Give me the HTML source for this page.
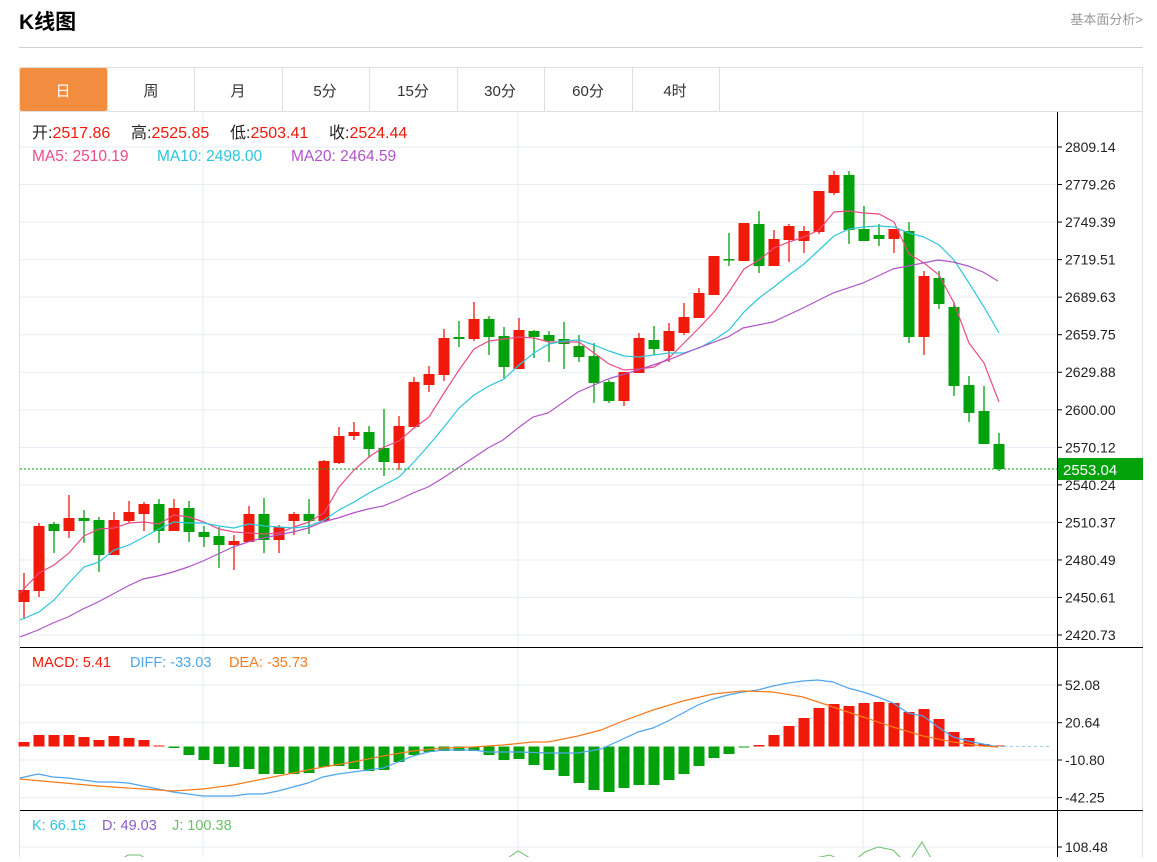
<!DOCTYPE html>
<html><head><meta charset="utf-8"><style>
body{margin:0;background:#fff;width:1157px;height:857px;overflow:hidden;font-family:"Liberation Sans","Noto Sans CJK SC",sans-serif;}
svg text{font-family:"Liberation Sans","Noto Sans CJK SC",sans-serif;}
</style></head><body>
<svg id="s" width="1157" height="857" xmlns="http://www.w3.org/2000/svg">
<text x="19" y="29" font-size="21" font-weight="bold" fill="#000">K线图</text>
<text x="1143" y="24" font-size="13" fill="#999" text-anchor="end">基本面分析&gt;</text>
<line x1="19" y1="47.5" x2="1143" y2="47.5" stroke="#d0d0d0"/>
<rect x="19.5" y="67.5" width="1123" height="800" fill="none" stroke="#e0e0e0"/>
<rect x="20" y="68" width="87" height="43" fill="#f28c3f" rx="2"/>
<g font-size="15" text-anchor="middle" fill="#333">
<text x="63" y="96" fill="#fff">日</text><text x="151" y="96">周</text><text x="238" y="96">月</text><text x="325" y="96">5分</text><text x="413" y="96">15分</text><text x="500" y="96">30分</text><text x="588" y="96">60分</text><text x="675" y="96">4时</text>
</g>
<g stroke="#e0e0e0"><line x1="107.5" y1="68" x2="107.5" y2="111"/><line x1="194.5" y1="68" x2="194.5" y2="111"/><line x1="282.5" y1="68" x2="282.5" y2="111"/><line x1="369.5" y1="68" x2="369.5" y2="111"/><line x1="457.5" y1="68" x2="457.5" y2="111"/><line x1="544.5" y1="68" x2="544.5" y2="111"/><line x1="632.5" y1="68" x2="632.5" y2="111"/><line x1="719.5" y1="68" x2="719.5" y2="111"/><line x1="20" y1="111.5" x2="1143" y2="111.5"/></g>
<g id="grid" stroke="#e6edf3" stroke-width="1"></g>
<g id="plot"></g>
<g font-size="16">
<text x="32" y="138" fill="#222">开:<tspan fill="#f0190a">2517.86</tspan></text>
<text x="131" y="138" fill="#222">高:<tspan fill="#f0190a">2525.85</tspan></text>
<text x="230" y="138" fill="#222">低:<tspan fill="#f0190a">2503.41</tspan></text>
<text x="329" y="138" fill="#222">收:<tspan fill="#f0190a">2524.44</tspan></text>
<text x="32" y="161" font-size="15.5" fill="#ec4a86">MA5:  2510.19</text>
<text x="157" y="161" font-size="15.5" fill="#2cc6dc">MA10:  2498.00</text>
<text x="291" y="161" font-size="15.5" fill="#b154c8">MA20:  2464.59</text>
<text x="32" y="667" font-size="14.5" fill="#f0190a">MACD: 5.41</text>
<text x="130" y="667" font-size="14.5" fill="#4ea5ee">DIFF: -33.03</text>
<text x="229" y="667" font-size="14.5" fill="#f67b1d">DEA: -35.73</text>
<text x="32" y="830" font-size="14.5" fill="#2cc6dc">K: 66.15</text>
<text x="102" y="830" font-size="14.5" fill="#8c5bc8">D: 49.03</text>
<text x="172" y="830" font-size="14.5" fill="#6cbf6c">J: 100.38</text>
</g>
</svg>
<script>
var S='http://www.w3.org/2000/svg',g=document.getElementById('plot'),gr=document.getElementById('grid');
function el(p,t,a,tx){var e=document.createElementNS(S,t);for(var k in a)e.setAttribute(k,a[k]);if(tx)e.textContent=tx;p.appendChild(e);return e;}
var pl=['2809.14','2779.26','2749.39','2719.51','2689.63','2659.75','2629.88','2600.00','2570.12','2540.24','2510.37','2480.49','2450.61','2420.73'];
for(var i=0;i<14;i++){var y=147+i*37.54;el(gr,'line',{x1:20,x2:1057,y1:y,y2:y});}
[685,722.7,760,797.6,847].forEach(function(y){el(gr,'line',{x1:20,x2:1057,y1:y,y2:y});});
[203,518,863].forEach(function(x){el(gr,'line',{x1:x,x2:x,y1:112,y2:857});});
el(g,'line',{x1:20,x2:1143,y1:647.5,y2:647.5,stroke:'#000'});
el(g,'line',{x1:20,x2:1143,y1:810.5,y2:810.5,stroke:'#000'});
el(g,'line',{x1:1057.5,x2:1057.5,y1:112,y2:857,stroke:'#000'});
for(var i=0;i<14;i++){var y=147+i*37.54;el(g,'line',{x1:1057,x2:1062,y1:y,y2:y,stroke:'#000'});el(g,'text',{x:1065,y:y+5,'font-size':14,fill:'#222'},pl[i]);}
[[685,'52.08'],[722.7,'20.64'],[760,'-10.80'],[797.6,'-42.25'],[847,'108.48']].forEach(function(a){el(g,'line',{x1:1057,x2:1062,y1:a[0],y2:a[0],stroke:'#000'});el(g,'text',{x:1065,y:a[0]+5,'font-size':14,fill:'#222'},a[1]);});
var R='#f0190a',G='#03a20c';
var C=[['r',590,602,573,619],['r',526,591,523,597],['g',524,531,522,553],['r',518,531,495,538],['g',518,521,510,543],['g',520,555,517,572],['r',520,555,512,555],['r',512,521,501,523],['r',504,514,502,531],['g',504,531,499,543],['r',508,531,499,531],['g',508,532,501,542],['g',532,537,526,547],['g',536,545,527,568],['r',541,545,535,570],['r',514,542,506,542],['g',514,540,498,553],['r',527,540,525,553],['r',514,521,512,535],['g',514,521,499,534],['r',461,521,460,521],['r',436,463,427,464],['r',432,436,422,440],['g',432,449,426,458],['g',448,462,409,476],['r',426,463,416,470],['r',382,427,377,427],['r',374,385,366,392],['r',338,375,329,381],['g',337,339,321,347],['r',319,339,302,341],['g',319,337,316,355],['g',336,367,327,378],['r',330,369,318,369],['g',331,337,330,358],['g',335,341,331,362],['g',339,344,322,369],['g',346,357,335,362],['g',356,383,343,403],['g',382,401,380,403],['r',372,401,372,406],['r',338,373,333,373],['g',340,349,326,355],['r',331,351,323,362],['r',317,333,303,335],['r',293,318,288,318],['r',256,295,256,295],['g',259,260,233,266],['r',223,261,223,261],['g',224,266,211,273],['r',239,266,230,266],['r',226,240,224,262],['r',231,241,226,253],['r',191,232,191,234],['r',175,193,171,195],['g',175,230,171,244],['g',229,241,206,241],['g',235,239,224,246],['r',229,239,229,253],['g',231,337,222,343],['r',276,337,271,355],['g',278,304,271,309],['g',307,386,302,396],['g',385,413,376,422],['g',411,444,386,444],['g',444,469,433,471]];
function X(i){return 24+i*15.0;}
C.forEach(function(c,i){var col=c[0]=='r'?R:G,x=X(i);el(g,'line',{x1:x,x2:x,y1:c[3],y2:c[4],stroke:col,'stroke-width':1.3});el(g,'rect',{x:x-5.5,y:c[1],width:11,height:Math.max(1.5,c[2]-c[1]),fill:col});});
function poly(pts,col,w){el(g,'polyline',{points:pts.map(function(p){return p.join(',')}).join(' '),fill:'none',stroke:col,'stroke-width':w||1.2});}
function seq(xs,ys){return xs.map(function(x,i){return [x,ys[i]];});}
var xs=[];for(var i=0;i<66;i++)xs.push(X(i));xs[0]=20;
poly(seq(xs,[593,573,565,553,536,529,528,523,522,524,515,517,522,529,532,533,534,533,527,522,513,487,470,457,447,441,428,417,393,370,349,341,339,337,338,342,342,342,353,364,370,369,367,358,343,328,312,292,269,260,248,242,237,230,212,211,213,214,222,254,263,275,303,343,363,402]),'#ec4a86');
poly(seq(xs,[620,612,600,583,567,562,550,545,537,529,522,523,523,526,528,524,526,527,528,526,520,510,502,493,485,477,462,445,427,408,395,386,379,365,353,344,341,340,345,351,356,357,355,353,353,348,340,330,312,298,287,275,264,250,236,229,227,226,227,233,237,245,260,283,307,333]),'#2cc6dc');
poly([[20,637],[38,630],[53,623],[68,617],[83,609],[98,602],[113,594],[128,586],[143,579],[158,576],[173,572],[188,567],[203,561],[218,554],[233,547],[248,542],[263,538],[278,535],[293,532],[308,528],[323,522],[338,518],[353,513],[368,509],[383,506],[398,500],[413,493],[428,487],[443,478],[458,468],[473,458],[488,448],[503,440],[518,428],[533,417],[548,413],[578,392],[608,379],[638,370],[668,360],[698,348],[728,337],[743,328],[773,322],[803,308],[833,293],[863,283],[893,269],[923,263],[938,260],[953,262],[968,266],[983,272],[998,281]],'#b154c8');
el(g,'line',{x1:20,x2:1057,y1:469,y2:469,stroke:G,'stroke-dasharray':'2,2'});
el(g,'rect',{x:1058,y:458,width:85,height:22,fill:G});
el(g,'text',{x:1063,y:475,'font-size':15,fill:'#fff'},'2553.04');
var Z=746.5;
var H=[742,735,735,735,737,740,736,738,740,745.5,748,755,760,764,767,769,774,774,774,773,767,766,769,771,770,762,755,752,751,751,751,755,760,759,765,770,776,783,790,792,788,785,785,780,774,766,758,754,747.5,745,735,726,718,708,704,706,703,702,703,712,709,719,732,738,744,745.5];
H.forEach(function(h,i){var x=X(i);var up=h<Z;el(g,'rect',{x:x-5.5,y:up?h:Z,width:11,height:Math.max(1,Math.abs(h-Z)),fill:up?R:G});});
el(g,'line',{x1:998,x2:1052,y1:Z,y2:Z,stroke:'#9fd3ef','stroke-dasharray':'3,3'});
poly([[20,778],[38,774],[53,777],[68,778],[83,780],[98,782],[113,782],[128,783],[143,786],[158,789],[173,792],[188,794],[203,796],[218,796],[233,796],[248,794],[263,794],[278,791],[293,787],[308,783],[323,777],[338,774],[353,772],[368,770],[383,768],[398,762],[413,756],[428,752],[443,750],[458,750],[473,750],[488,752],[503,752],[520,752],[548,753],[578,753],[601,749],[623,739],[638,732],[653,728],[668,721],[683,713],[698,705],[713,699],[728,695],[743,692],[758,690],[773,686],[788,683],[803,681],[818,680],[833,682],[848,688],[863,692],[878,697],[893,703],[908,713],[923,716],[938,727],[953,737],[968,741],[983,744],[998,747]],'#4ea5ee');
poly([[20,779],[53,782],[98,786],[143,789],[173,791],[203,789],[233,785],[263,779],[293,773],[323,767],[353,762],[383,756],[413,751],[443,748],[473,747],[503,745],[533,742],[548,742],[578,736],[601,730],[623,721],[653,710],[683,701],[713,694],[743,691],[773,692],[803,697],[833,707],[863,717],[893,727],[923,736],[953,742],[983,746],[998,747]],'#f67b1d');
poly([[120,860],[128,855],[140,855],[148,860]],'#6cbf6c',1);
poly([[505,860],[518,851],[530,858]],'#6cbf6c',1);
poly([[815,858],[830,855],[840,860]],'#6cbf6c',1);
poly([[855,860],[865,852],[878,847],[893,850],[903,860]],'#6cbf6c',1);
poly([[910,860],[922,842],[932,860]],'#6cbf6c',1);
</script>
</body></html>
